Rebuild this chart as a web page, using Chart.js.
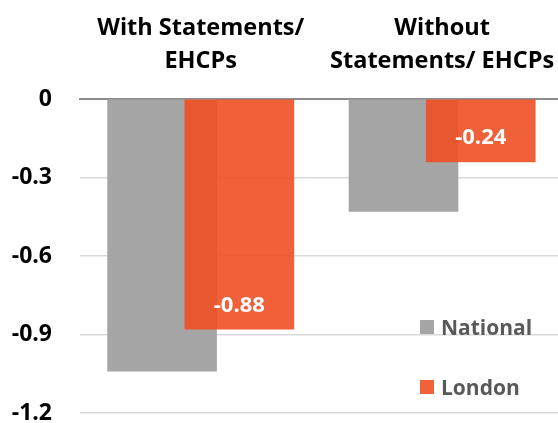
<!DOCTYPE html>
<html>
<head>
<meta charset="utf-8">
<script src="https://cdn.jsdelivr.net/npm/chart.js@4/dist/chart.umd.min.js"></script>
<style>
  html, body { margin: 0; padding: 0; background: #fff; }
  #wrap { position: relative; width: 558px; height: 423px; }
  #legend { position: absolute; left: 420px; top: 308px; font-family: "Open Sans", sans-serif; font-weight: bold; font-size: 21px; color: #595959; }
  .item { display: flex; align-items: center; height: 38px; margin-bottom: 22px; }
  .sw { width: 14px; height: 14px; margin-right: 7px; }
</style>
</head>
<body>
<div id="wrap">
  <canvas id="c" width="558" height="423"></canvas>
  <div id="legend"></div>
</div>
<script>
const categories = [["With Statements/", "EHCPs"], ["Without", "Statements/ EHCPs"]];
const seriesNames = ["National", "London"];
const nationalValues = [-1.04, -0.43];
const londonValues = [-0.88, -0.24];
const yTickValues = [0, -0.3, -0.6, -0.9, -1.2];
const yTickLabels = ["0", "-0.3", "-0.6", "-0.9", "-1.2"];

const FONT = '"Open Sans", sans-serif';
const shift = 0.16;

const labelPlugin = {
  id: 'barLabels',
  afterDatasetsDraw(chart) {
    const ctx = chart.ctx;
    const meta = chart.getDatasetMeta(1);
    ctx.save();
    ctx.fillStyle = '#ffffff';
    ctx.font = 'bold 22px ' + FONT;
    ctx.textAlign = 'center';
    ctx.textBaseline = 'middle';
    meta.data.forEach((bar, i) => {
      const v = londonValues[i];
      ctx.fillText(v.toFixed(2), bar.x, bar.y - 24);
    });
    ctx.restore();
  }
};

const chart = new Chart(document.getElementById('c'), {
  type: 'bar',
  data: {
    datasets: [
      {
        label: seriesNames[0],
        data: nationalValues.map((v, i) => ({ x: i - shift, y: v })),
        backgroundColor: '#a5a5a5',
        barThickness: 109,
        grouped: false,
        order: 2
      },
      {
        label: seriesNames[1],
        data: londonValues.map((v, i) => ({ x: i + shift, y: v })),
        backgroundColor: 'rgba(238,80,36,0.9)',
        barThickness: 109,
        grouped: false,
        order: 1
      }
    ]
  },
  options: {
    responsive: false,
    animation: false,
    layout: { padding: 0 },
    plugins: { legend: { display: false }, tooltip: { enabled: false } },
    scales: {
      x: {
        type: 'linear',
        position: 'top',
        offset: false,
        min: -0.5,
        max: 1.48,
        afterBuildTicks(scale) {
          scale.ticks = categories.map((c, i) => ({ value: i }));
        },
        afterFit(s) { s.height = 99; s.paddingLeft = 0; s.paddingRight = 0; },
        ticks: {
          autoSkip: false,
          maxRotation: 0,
          padding: 21,
          color: '#000',
          font: { family: FONT, weight: 'bold', size: 23.5, lineHeight: 1.4 },
          callback: (v) => categories[v]
        },
        grid: { display: false, drawTicks: false, offset: false },
        border: { display: true, color: '#8c8c8c', width: 2 }
      },
      y: {
        min: -1.2,
        max: 0,
        afterBuildTicks(scale) {
          scale.ticks = yTickValues.map(v => ({ value: v }));
        },
        afterFit(s) { s.width = 80; s.paddingTop = 0; s.paddingBottom = 10; },
        ticks: {
          padding: 28,
          color: '#000',
          font: { family: FONT, weight: 'bold', size: 23 },
          callback: (v) => yTickLabels[yTickValues.indexOf(v)] ?? ''
        },
        grid: {
          drawTicks: false,
          color: (ctx) => ctx.tick && ctx.tick.value === 0 ? 'rgba(0,0,0,0)' : '#d9d9d9',
          lineWidth: 1.5
        },
        border: { display: false }
      }
    }
  },
  plugins: [labelPlugin]
});

const legend = document.getElementById('legend');
chart.data.datasets.forEach(ds => {
  const item = document.createElement('div');
  item.className = 'item';
  const sw = document.createElement('span');
  sw.className = 'sw';
  sw.style.background = ds.label === 'London' ? '#f0623a' : ds.backgroundColor;
  const t = document.createElement('span');
  t.textContent = ds.label;
  item.appendChild(sw);
  item.appendChild(t);
  legend.appendChild(item);
});
</script>
</body>
</html>
